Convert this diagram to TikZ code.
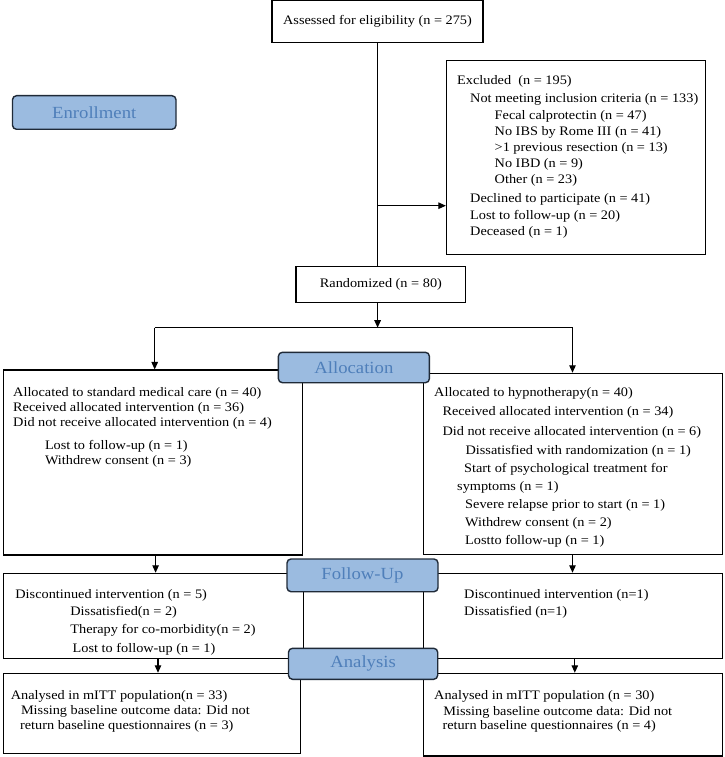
\documentclass[tikz,border=0pt]{standalone}
\usepackage{fontspec}
\setmainfont[FakeStretch=1.1]{Liberation Serif}
\usetikzlibrary{arrows.meta}
\definecolor{hdrfill}{HTML}{9BBBE0}
\definecolor{hdrtext}{HTML}{4F7FBA}
\definecolor{hdrdraw}{HTML}{1F2A38}
\tikzset{
  plainbox/.style={draw=black, line width=1.1pt, fill=white, inner sep=0pt, rectangle},
  hdrbox/.style={draw=hdrdraw, line width=1.4pt, fill=hdrfill, rounded corners=4pt, inner sep=0pt,
     text=hdrtext, font=\fontsize{17}{19}\selectfont},
  txt/.style={anchor=base west, inner sep=0pt, font=\fontsize{13}{15}\selectfont},
  ctxt/.style={font=\fontsize{13}{15}\selectfont},
  conn/.style={line width=1.1pt, draw=black},
  arr/.style={conn, -{Triangle[length=7.5pt,width=6.5pt]}},
}
\newcommand{\boxat}[6]{\node[#1, minimum width=#4pt, minimum height=#5pt] (#2) at (#3) {#6};}
\begin{document}
\begin{tikzpicture}[x=1pt,y=-1pt]
\useasboundingbox[fill=white] (0,0) rectangle (724,757);
% plain boxes
\boxat{plainbox}{assess}{377.5,21.6}{211}{42}{}
\node[ctxt] (tassess) at (assess.center) {Assessed for eligibility (n = 275)};
\boxat{plainbox}{excl}{575.9,157.5}{259}{193.6}{}
\boxat{plainbox}{rand}{380.9,284.5}{169.8}{36.4}{}
\node[ctxt] (trand) at (rand.center) {Randomized (n = 80)};
\boxat{plainbox}{allocL}{152.8,462.5}{299.2}{185}{}
\boxat{plainbox}{allocR}{572.95,463.8}{299.1}{181}{}
\boxat{plainbox}{followL}{153.25,615.8}{300.1}{85}{}
\boxat{plainbox}{followR}{572.95,615.8}{299.1}{85}{}
\boxat{plainbox}{analL}{151.9,713.3}{297.4}{80}{}
\boxat{plainbox}{analR}{572.95,714.65}{299.1}{82.7}{}
% header boxes
\boxat{hdrbox}{enroll}{94.25,112.5}{163.5}{33.6}{Enrollment}
\boxat{hdrbox}{alloc}{353.9,367.5}{151}{30.4}{Allocation}
\boxat{hdrbox}{follow}{362.5,575.35}{151}{32.7}{Follow-Up}
\boxat{hdrbox}{anal}{363.1,663.8}{149.2}{31}{Analysis}
% connectors
\coordinate (trunk) at (377.6,205.7);
\coordinate (split) at (377.6,327.7);
\coordinate (splitL) at (154.7,327.7);
\coordinate (splitR) at (572.5,327.7);
\draw[conn] (assess.south -| trunk) -- (trunk |- rand.north);
\draw[arr] (trunk) -- (trunk -| excl.west);
\draw[arr] (split |- rand.south) -- (split);
\draw[conn] (splitL) -- (splitR);
\draw[arr] (splitL) -- (splitL |- allocL.north);
\draw[arr] (splitR) -- (splitR |- allocR.north);
\coordinate (fL) at (155.6,0);
\coordinate (fR) at (572.5,0);
\draw[arr] (fL |- allocL.south) -- (fL |- followL.north);
\draw[arr] (fR |- allocR.south) -- (fR |- followR.north);
\coordinate (aL) at (158,0);
\coordinate (aR) at (574.8,0);
\draw[arr] (aL |- followL.south) -- (aL |- analL.north);
\draw[arr] (aR |- followR.south) -- (aR |- analR.north);
% excluded texts
\node[txt] (e1) at (457,84.5) {Excluded\ \ (n = 195)};
\node[txt] (e2) at (470,102.2) {Not meeting inclusion criteria (n = 133)};
\node[txt] (e3) at (494.5,119.5) {Fecal calprotectin (n = 47)};
\node[txt] (e4) at (494.5,135.2) {No IBS by Rome III (n = 41)};
\node[txt] (e5) at (494.5,151.2) {>1 previous resection (n = 13)};
\node[txt] (e6) at (494.5,167.5) {No IBD (n = 9)};
\node[txt] (e7) at (494.5,183.5) {Other (n = 23)};
\node[txt] (e8) at (470,202.8) {Declined to participate (n = 41)};
\node[txt] (e9) at (470,219.5) {Lost to follow-up (n = 20)};
\node[txt] (e10) at (470,235.2) {Deceased (n = 1)};
% allocation left
\node[txt] (l1) at (13,396.2) {Allocated to standard medical care (n = 40)};
\node[txt] (l2) at (13,411.2) {Received allocated intervention (n = 36)};
\node[txt] (l3) at (13,426.2) {Did not receive allocated intervention (n = 4)};
\node[txt] (l4) at (44.8,449.5) {Lost to follow-up (n = 1)};
\node[txt] (l5) at (44.8,464.5) {Withdrew consent (n = 3)};
% allocation right
\node[txt] (r1) at (434,396.2) {Allocated to hypnotherapy(n = 40)};
\node[txt] (r2) at (442.3,415.5) {Received allocated intervention (n = 34)};
\node[txt] (r3) at (442.3,435.5) {Did not receive allocated intervention (n = 6)};
\node[txt] (r4) at (465.4,454.5) {Dissatisfied with randomization (n = 1)};
\node[txt] (r5) at (464,472.2) {Start of psychological treatment for};
\node[txt] (r6) at (457,490.5) {symptoms (n = 1)};
\node[txt] (r7) at (465,508.5) {Severe relapse prior to start (n = 1)};
\node[txt] (r8) at (465,526.8) {Withdrew consent (n = 2)};
\node[txt] (r9) at (465,544.5) {Lostto follow-up (n = 1)};
% follow-up
\node[txt] (fl1) at (15.2,598.8) {Discontinued intervention (n = 5)};
\node[txt] (fl2) at (70.2,615.5) {Dissatisfied(n = 2)};
\node[txt] (fl3) at (70.2,633.8) {Therapy for co-morbidity(n = 2)};
\node[txt] (fl4) at (72.5,652.2) {Lost to follow-up (n = 1)};
\node[txt] (fr1) at (464,598.8) {Discontinued intervention (n=1)};
\node[txt] (fr2) at (464,615.5) {Dissatisfied (n=1)};
% analysis
\node[txt] (al1) at (10.6,699.5) {Analysed in mITT population(n = 33)};
\node[txt] (al2) at (20.8,714.5) {Missing baseline outcome data: Did not};
\node[txt] (al3) at (19.9,729.5) {return baseline questionnaires (n = 3)};
\node[txt] (ar1) at (434,699.5) {Analysed in mITT population (n = 30)};
\node[txt] (ar2) at (443.2,715.2) {Missing baseline outcome data: Did not};
\node[txt] (ar3) at (442.3,729.5) {return baseline questionnaires (n = 4)};
\end{tikzpicture}
\end{document}
